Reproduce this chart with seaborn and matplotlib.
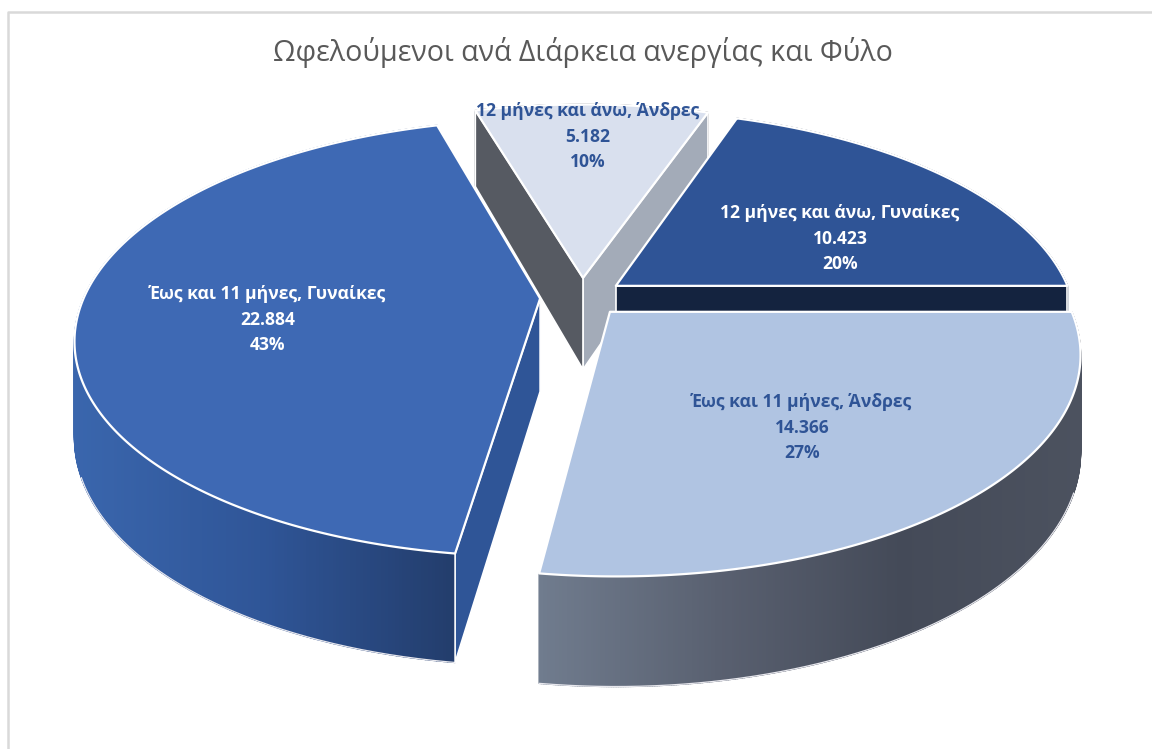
import numpy as np
import matplotlib
matplotlib.use("Agg")
import matplotlib.pyplot as plt
from matplotlib.collections import PolyCollection
import seaborn as sns

title = "Ωφελούμενοι ανά Διάρκεια ανεργίας και Φύλο"
labels = ["12 μήνες και άνω, Γυναίκες", "12 μήνες και άνω, Άνδρες",
          "Έως και 11 μήνες, Γυναίκες", "Έως και 11 μήνες, Άνδρες"]
values = [10423, 5182, 22884, 14366]
top_colors = ["#2f5496", "#d9e0ee", "#3e69b4", "#b0c4e2"]
text_colors = ["white", "#2f5496", "white", "#2f5496"]
# wall shades: outer wall left-to-right, and the radial walls at start/end angle
wall_ramps = [["#14233f", "#14233f"], ["#4f535c", "#4f535c"],
              ["#3a66ad", "#2f5597", "#233d6c"], ["#707c8e", "#596070", "#444a58", "#4c525f"]]
start_wall = ["#14233f", "#a3abb8", None, None]
end_wall = [None, "#565a62", "#2f5597", None]
explode = [0.092, 0.092, 0.092, 0.092]
label_xy = [(840, 238), (588, 136), (268, 319), (802, 427)]
draw_order = [1, 0, 2, 3]

CX, CY = 582, 297
A, B, K = 456, 211, 0.18
DROP, DROP_SLOPE = 93, 16
ROTATION = 0.0

sns.set_theme(style="white")
plt.rcParams["font.family"] = ["Open Sans", "DejaVu Sans"]

fig = plt.figure(figsize=(11.52, 7.49), dpi=100)
ax = fig.add_axes([0, 0, 1, 1])
ax.set_xlim(0, 1152)
ax.set_ylim(749, 0)
ax.axis("off")


def project(u, v, drop=False):
    w = 1 + K * v
    x = CX + A * u / w
    y = CY - B * v / w
    if drop:
        y = y + DROP - DROP_SLOPE * v
    return x, y


vals = np.array(values, float)
fractions = vals / vals.sum()
edges = ROTATION + np.concatenate([[0], np.cumsum(fractions) * 360])

ax.plot([8, 8, 1152], [749, 12, 12], color="#d9d9d9", lw=1.8, zorder=0)

for z, i in enumerate(draw_order):
    t0, t1 = np.radians(edges[i]), np.radians(edges[i + 1])
    mid = (t0 + t1) / 2
    ou, ov = explode[i] * np.cos(mid), explode[i] * np.sin(mid)
    ts = np.linspace(t0, t1, 400)
    ru, rv = ou + np.cos(ts), ov + np.sin(ts)
    xt, yt = project(ru, rv)
    xb, yb = project(ru, rv, drop=True)
    ax_, ay_ = project(ou, ov)
    axb, ayb = project(ou, ov, drop=True)
    base = z * 10 + 1

    # outer wall, shaded step by step across its width
    ramp = sns.blend_palette(wall_ramps[i], n_colors=256)
    lo, hi = xt.min(), xt.max()
    polys, cols = [], []
    for j in range(len(ts) - 1):
        polys.append([(xt[j], yt[j]), (xt[j + 1], yt[j + 1]), (xb[j + 1], yb[j + 1]), (xb[j], yb[j])])
        pos = ((xt[j] + xt[j + 1]) / 2 - lo) / max(hi - lo, 1)
        cols.append(ramp[int(pos * 255)])
    ax.add_collection(PolyCollection(polys, facecolors=cols, edgecolors=cols, linewidths=1.0, zorder=base))
    front = np.sin(ts) < -0.35
    if front.any():
        ax.plot(xb[front], yb[front], color="#e8e8ee", lw=0.9, zorder=base + 1)

    # radial walls that face the viewer
    for k, col in ((0, start_wall[i]), (-1, end_wall[i])):
        if col is not None:
            ax.fill([ax_, xt[k], xb[k], axb], [ay_, yt[k], yb[k], ayb], facecolor=col,
                    edgecolor="white", lw=1.2, zorder=base + 2, joinstyle="round")

    # top face
    ax.fill(np.r_[ax_, xt], np.r_[ay_, yt], facecolor=top_colors[i], edgecolor="white",
            lw=1.6, zorder=base + 3, joinstyle="round")

    tx, ty = label_xy[i]
    num = f"{values[i]:,}".replace(",", ".")
    for dy, s in zip((-25, 1, 26), (labels[i], num, f"{round(fractions[i] * 100)}%")):
        ax.text(tx, ty + dy, s, ha="center", va="center", fontsize=12.6, fontweight="bold",
                color=text_colors[i], zorder=100)

ax.text(583, 53, title, ha="center", va="center", fontsize=20.6, color="#595959", zorder=100)

fig.savefig("out.png", dpi=100, facecolor="white")
